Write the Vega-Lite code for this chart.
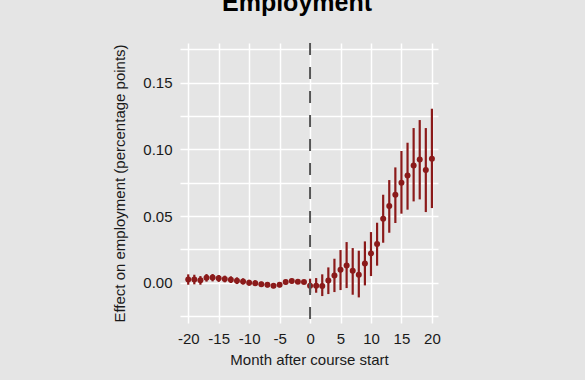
{
  "$schema": "https://vega.github.io/schema/vega-lite/v6.json",
  "autosize": "none",
  "width": 258,
  "height": 280,
  "padding": {"left": 180, "top": 43, "right": 147, "bottom": 57},
  "background": "#e5e5e5",
  "config": {
    "view": {"stroke": null, "fill": "#e5e5e5"},
    "font": "Liberation Sans",
    "axis": {
      "domain": false,
      "ticks": false,
      "gridColor": "#ffffff",
      "gridWidth": 1.5,
      "labelOverlap": false,
      "labelFont": "Liberation Sans",
      "titleFont": "Liberation Sans",
      "labelFontSize": 15,
      "titleFontSize": 15,
      "labelColor": "#1a1a1a",
      "titleColor": "#1a1a1a",
      "titleFontWeight": "normal"
    }
  },
  "title": {
    "text": "Employment",
    "font": "Liberation Sans",
    "fontSize": 25,
    "fontWeight": "bold",
    "color": "#000000",
    "anchor": "middle",
    "frame": "group",
    "offset": 26,
    "dx": -12
  },
  "data": {
    "values": [
      {"month": -20, "est": 0.0025, "lo": -0.0015, "hi": 0.0063},
      {"month": -19, "est": 0.0025, "lo": -0.0012, "hi": 0.0060},
      {"month": -18, "est": 0.0018, "lo": -0.0015, "hi": 0.0050},
      {"month": -17, "est": 0.0038, "lo": 0.0008, "hi": 0.0065},
      {"month": -16, "est": 0.0039, "lo": 0.0010, "hi": 0.0065},
      {"month": -15, "est": 0.0033, "lo": 0.0006, "hi": 0.0058},
      {"month": -14, "est": 0.0028, "lo": 0.0003, "hi": 0.0053},
      {"month": -13, "est": 0.0023, "lo": -0.0002, "hi": 0.0048},
      {"month": -12, "est": 0.0015, "lo": -0.0010, "hi": 0.0040},
      {"month": -11, "est": 0.0010, "lo": -0.0013, "hi": 0.0033},
      {"month": -10, "est": 0.0000, "lo": -0.0022, "hi": 0.0022},
      {"month": -9, "est": -0.0003, "lo": -0.0024, "hi": 0.0018},
      {"month": -8, "est": -0.0012, "lo": -0.0032, "hi": 0.0008},
      {"month": -7, "est": -0.0015, "lo": -0.0035, "hi": 0.0005},
      {"month": -6, "est": -0.0022, "lo": -0.0041, "hi": -0.0003},
      {"month": -5, "est": -0.0015, "lo": -0.0034, "hi": 0.0004},
      {"month": -4, "est": 0.0005, "lo": -0.0013, "hi": 0.0023},
      {"month": -3, "est": 0.0013, "lo": -0.0004, "hi": 0.0030},
      {"month": -2, "est": 0.0008, "lo": -0.0008, "hi": 0.0024},
      {"month": -1, "est": 0.0006, "lo": -0.0008, "hi": 0.0020},
      {"month": 0, "est": -0.0022, "lo": -0.0075, "hi": 0.0030},
      {"month": 1, "est": -0.0022, "lo": -0.0075, "hi": 0.0035},
      {"month": 2, "est": -0.0025, "lo": -0.0100, "hi": 0.0063},
      {"month": 3, "est": 0.0017, "lo": -0.0085, "hi": 0.0115},
      {"month": 4, "est": 0.0055, "lo": -0.0070, "hi": 0.0180},
      {"month": 5, "est": 0.0098, "lo": -0.0055, "hi": 0.0245},
      {"month": 6, "est": 0.0130, "lo": -0.0040, "hi": 0.0305},
      {"month": 7, "est": 0.0090, "lo": -0.0090, "hi": 0.0260},
      {"month": 8, "est": 0.0060, "lo": -0.0110, "hi": 0.0240},
      {"month": 9, "est": 0.0145, "lo": -0.0020, "hi": 0.0310},
      {"month": 10, "est": 0.0220, "lo": 0.0050, "hi": 0.0380},
      {"month": 11, "est": 0.0290, "lo": 0.0128, "hi": 0.0450},
      {"month": 12, "est": 0.0480, "lo": 0.0300, "hi": 0.0660},
      {"month": 13, "est": 0.0575, "lo": 0.0375, "hi": 0.0770},
      {"month": 14, "est": 0.0660, "lo": 0.0448, "hi": 0.0865},
      {"month": 15, "est": 0.0750, "lo": 0.0518, "hi": 0.0988},
      {"month": 16, "est": 0.0805, "lo": 0.0548, "hi": 0.1050},
      {"month": 17, "est": 0.0880, "lo": 0.0610, "hi": 0.1160},
      {"month": 18, "est": 0.0925, "lo": 0.0625, "hi": 0.1220},
      {"month": 19, "est": 0.0845, "lo": 0.0530, "hi": 0.1160},
      {"month": 20, "est": 0.0930, "lo": 0.0560, "hi": 0.1305}
    ]
  },
  "layer": [
    {
      "mark": {"type": "rule", "color": "#8b1a1a", "strokeWidth": 2.2},
      "encoding": {
        "x": {
          "field": "month",
          "type": "quantitative",
          "scale": {"domain": [-21.35, 21.0], "nice": false, "zero": false},
          "axis": {
            "values": [-20, -15, -10, -5, 0, 5, 10, 15, 20],
            "tickCount": 50,
            "labelExpr": "'' + datum.value",
            "title": "Month after course start",
            "labelPadding": 8,
            "titlePadding": 6
          }
        },
        "y": {
          "field": "lo",
          "type": "quantitative",
          "scale": {"domain": [-0.0302, 0.1798], "nice": false, "zero": false},
          "axis": {
            "values": [-0.025, 0, 0.025, 0.05, 0.075, 0.1, 0.125, 0.15, 0.175],
            "tickCount": 50,
            "labelExpr": "(abs(round(datum.value * 1000)) % 50 == 0) ? format(datum.value, '.2f') : ''",
            "title": "Effect on employment (percentage points)",
            "labelPadding": 8,
            "titlePadding": 15
          }
        },
        "y2": {"field": "hi"}
      }
    },
    {
      "mark": {"type": "point", "filled": true, "color": "#8b1a1a", "opacity": 1, "size": 36},
      "encoding": {
        "x": {"field": "month", "type": "quantitative"},
        "y": {"field": "est", "type": "quantitative"}
      }
    },
    {
      "data": {"values": [{"x0": 0}]},
      "mark": {"type": "rule", "color": "#555555", "strokeWidth": 2, "strokeDash": [12, 12]},
      "encoding": {
        "x": {"field": "x0", "type": "quantitative"}
      }
    }
  ]
}
